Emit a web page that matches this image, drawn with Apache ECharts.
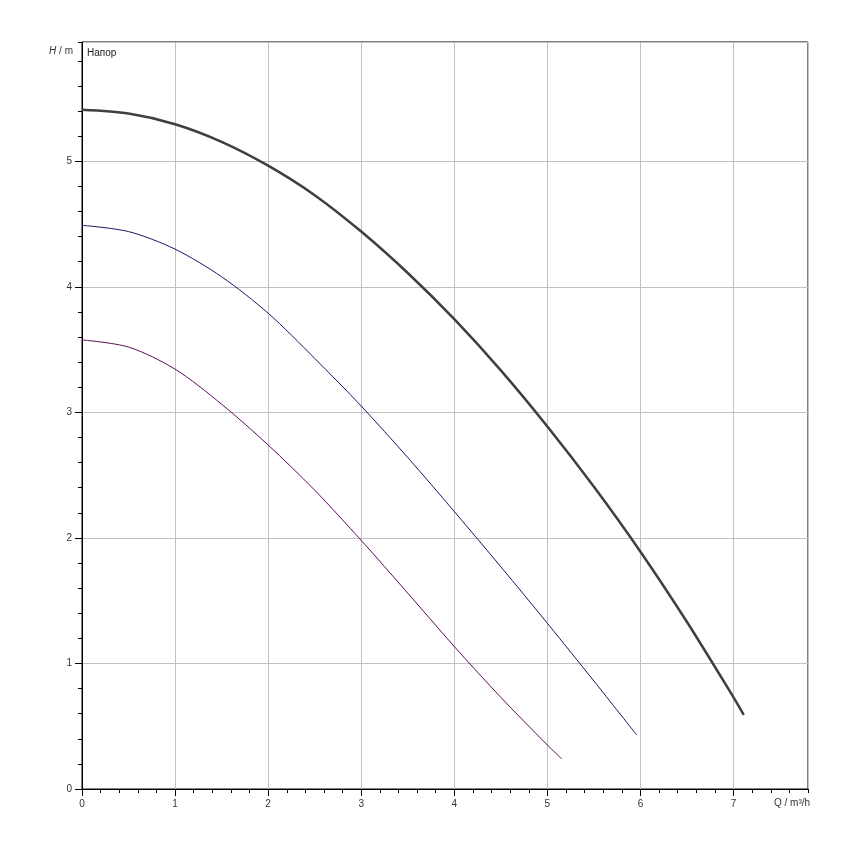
<!DOCTYPE html>
<html>
<head>
<meta charset="utf-8">
<script src="https://cdn.jsdelivr.net/npm/echarts@6/dist/echarts.min.js"></script>
<style>
html,body{margin:0;padding:0;background:#fff;}
#chart{width:850px;height:850px;}
</style>
</head>
<body>
<div id="chart"></div>
<script>
// Curve data: flow Q (m³/h) and head H (m)
const curve1Q = [0, 0.5, 1.0, 1.5, 2.0, 2.5, 3.0, 3.5, 4.0, 4.5, 5.0, 5.5, 6.0, 6.5, 7.0, 7.11];
const curve1H = [5.41, 5.38, 5.295, 5.155, 4.965, 4.73, 4.44, 4.11, 3.742, 3.334, 2.887, 2.407, 1.89, 1.33, 0.73, 0.59];
const curve2Q = [0, 0.5, 1.0, 1.5, 2.0, 2.5, 3.0, 3.5, 4.0, 4.5, 5.0, 5.5, 5.96];
const curve2H = [4.49, 4.44, 4.30, 4.08, 3.79, 3.43, 3.05, 2.64, 2.21, 1.77, 1.32, 0.86, 0.43];
const curve3Q = [0, 0.5, 1.0, 1.5, 2.0, 2.5, 3.0, 3.5, 4.0, 4.5, 5.0, 5.155];
const curve3H = [3.577, 3.52, 3.344, 3.065, 2.74, 2.38, 1.98, 1.56, 1.135, 0.73, 0.35, 0.24];

const xMin = 0, xMax = 7.8, yMin = 0, yMax = 5.95;
const xAxisTitle = 'Q / m³/h';
const curveTitle = 'Напор';

function pairs(q, h) { return q.map((v, i) => [v, h[i]]); }

const font = 'Liberation Sans, Arial, sans-serif';
const chart = echarts.init(document.getElementById('chart'), null, {renderer: 'canvas'});
const intFmt = v => (Math.abs(v - Math.round(v)) < 1e-6 ? String(Math.round(v)) : '');

chart.setOption({
  animation: false,
  backgroundColor: '#ffffff',
  grid: {left: 82, right: 42, top: 42, bottom: 61, show: true, borderColor: '#000', borderWidth: 1, backgroundColor: 'transparent'},
  xAxis: [
    {type: 'value', min: xMin, max: xMax, interval: 1,
     axisLine: {show: true, onZero: false, lineStyle: {color: '#000', width: 1}},
     axisTick: {show: true, inside: false, length: 7, lineStyle: {color: '#000'}},
     axisLabel: {formatter: intFmt, color: '#333', fontSize: 10, fontFamily: font, margin: 10, showMaxLabel: false},
     splitLine: {show: true, lineStyle: {color: '#c0c0c0', width: 1}}},
    {type: 'value', min: xMin, max: xMax, interval: 0.2, position: 'bottom',
     axisLine: {show: false, onZero: false},
     axisTick: {show: true, inside: false, length: 4, lineStyle: {color: '#000'}},
     axisLabel: {show: false}, splitLine: {show: false}}
  ],
  yAxis: [
    {type: 'value', min: yMin, max: yMax, interval: 1,
     axisLine: {show: true, onZero: false, lineStyle: {color: '#000', width: 1}},
     axisTick: {show: true, inside: false, length: 7, lineStyle: {color: '#000'}},
     axisLabel: {formatter: intFmt, color: '#333', fontSize: 10, fontFamily: font, margin: 10, showMaxLabel: false},
     splitLine: {show: true, lineStyle: {color: '#c0c0c0', width: 1}}},
    {type: 'value', min: yMin, max: yMax, interval: 0.2, position: 'left',
     axisLine: {show: false, onZero: false},
     axisTick: {show: true, inside: false, length: 4, lineStyle: {color: '#000'}},
     axisLabel: {show: false}, splitLine: {show: false}}
  ],
  series: [
    {type: 'line', data: pairs(curve1Q, curve1H), smooth: 0.3, showSymbol: false, symbol: 'none',
     lineStyle: {color: '#3c4043', width: 2.5}},
    {type: 'line', data: pairs(curve2Q, curve2H), smooth: 0.3, showSymbol: false, symbol: 'none',
     lineStyle: {color: '#1c1464', width: 1}},
    {type: 'line', data: pairs(curve3Q, curve3H), smooth: 0.3, showSymbol: false, symbol: 'none',
     lineStyle: {color: '#5c0c5c', width: 1}}
  ],
  graphic: [
    {type: 'text', right: 850 - 73, top: 46,
     style: {text: '{i|H} / m', rich: {i: {fontStyle: 'italic', fontFamily: font, fontSize: 10, fill: '#333'}},
             fontFamily: font, fontSize: 10, fill: '#333'}},
    {type: 'text', left: 87, top: 48,
     style: {text: curveTitle, fontFamily: font, fontSize: 10, fill: '#222'}},
    {type: 'text', left: 774, top: 798,
     style: {text: xAxisTitle, fontFamily: font, fontSize: 10, fill: '#333'}}
  ]
});
</script>
</body>
</html>
